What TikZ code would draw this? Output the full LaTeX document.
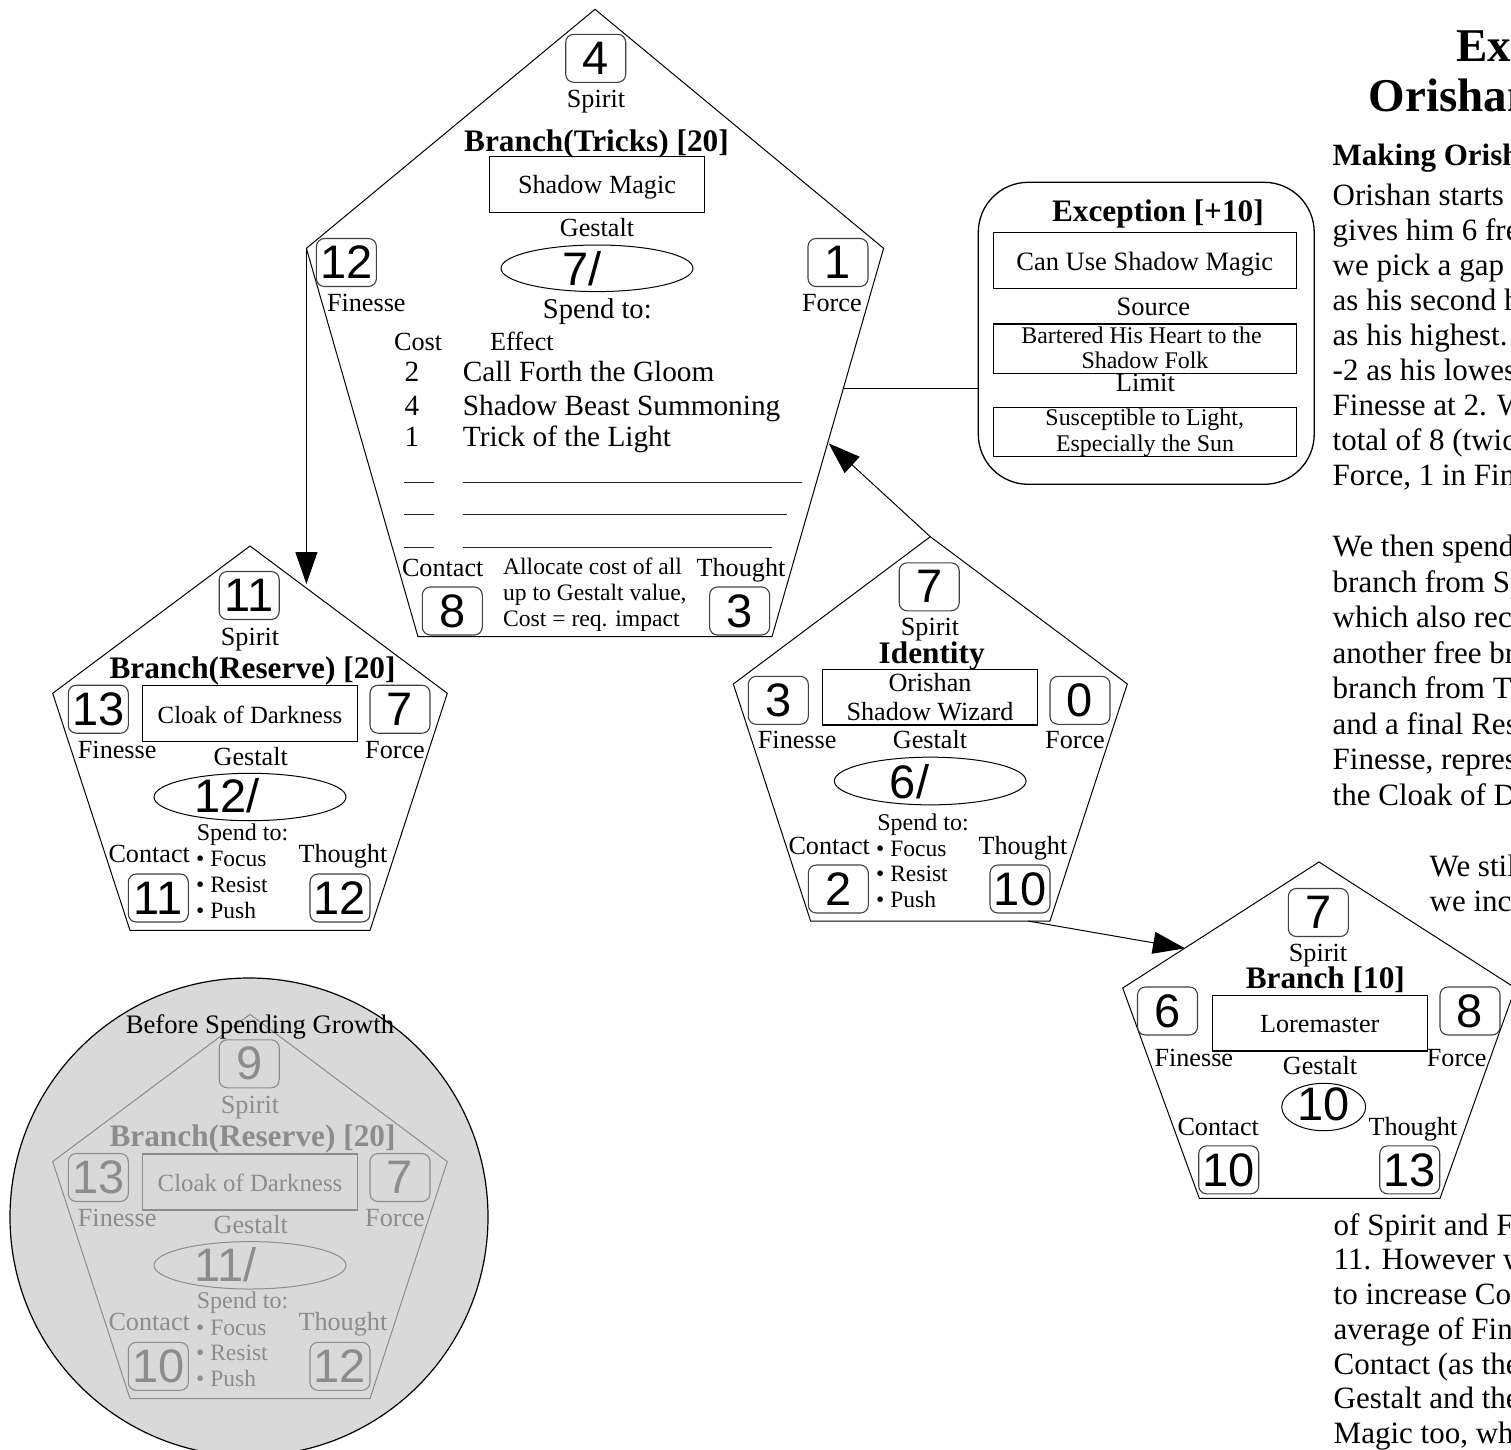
\documentclass[tikz,border=0pt]{standalone}
\usepackage{fontspec}
\setmainfont{Liberation Serif}
\newfontfamily\numfont{Liberation Sans}
\usetikzlibrary{shapes.geometric,arrows.meta}
\newcommand\fs[1]{\fontsize{#1}{#1}\selectfont}
\colorlet{ink}{black}
\colorlet{boxink}{black!75}
\tikzset{
  pent/.style={draw=ink, line width=1pt, line join=miter},
  numbox/.style={draw=boxink, line width=1.1pt, rounded corners=8pt, minimum width=60pt,
    minimum height=48pt, inner sep=0pt, text=ink, font=\numfont\fs{47}},
  lbl/.style={inner sep=0pt, anchor=base, text=ink, font=\fs{26.2}},
  lblw/.style={lbl, anchor=base west},
  ttl/.style={inner sep=0pt, anchor=base, text=ink, font=\bfseries\fs{31.3}},
  namebox/.style={draw=ink, line width=1.2pt, inner sep=0pt},
  gestalt/.style={draw=ink, ellipse, line width=1pt, inner sep=0pt},
  gnum/.style={inner sep=0pt, anchor=base west, text=ink, font=\numfont\fs{47}},
  spenditem/.style={inner sep=0pt, anchor=base west, text=ink, font=\fs{23.5}},
  prose/.style={inner sep=0pt, anchor=base west, font=\fs{31}},
  fillline/.style={draw=black!85, line width=1.5pt},
  joiner/.style={draw, line width=1pt},
  pointer/.style={joiner, -{Triangle[length=32pt,width=22pt]}},
}

% A "Branch(Reserve)" sheet: #1 name prefix, #2 vertical offset,
% #3 Spirit, #4 Gestalt, #5 Contact, #6 text/line colour, #7 box colour
\newcommand\reservesheet[7]{%
  \begin{scope}[shift={(0,#2)}]
    \colorlet{ink}{#6}\colorlet{boxink}{#7}%
    \coordinate (#1-top) at (250,546);
    \coordinate (#1-right) at (447.3,693.3);
    \coordinate (#1-br) at (370,930.3);
    \coordinate (#1-bl) at (130,930.3);
    \coordinate (#1-left) at (52.7,693.3);
    \draw[pent] (#1-top) -- (#1-right) -- (#1-br) -- (#1-bl) -- (#1-left) -- cycle;
    \node[numbox] (#1-spirit) at (249.2,595.5) {#3};
    \node[lbl] (#1-spiritlbl) at (250,645) {Spirit};
    \node[ttl] (#1-title) at (252.5,678.3) {Branch(Reserve) [20]};
    \node[numbox] (#1-finesse) at (98.3,709.2) {13};
    \node[numbox] (#1-force) at (400,709.2) {7};
    \node[namebox, minimum width=214.6pt, minimum height=56pt] (#1-name) at (250,713.7) {};
    \node[lbl, font=\fs{24.8}] (#1-nametext) at (250,723.3) {Cloak of Darkness};
    \node[lblw] (#1-finesselbl) at (77.7,758.3) {Finesse};
    \node[lblw] (#1-forcelbl) at (365,758.3) {Force};
    \node[lbl] (#1-gestaltlbl) at (250.7,765) {Gestalt};
    \node[gestalt, minimum width=192pt, minimum height=47.4pt] (#1-gestalt) at (250,797) {};
    \node[gnum] (#1-gestaltval) at (194.5,812.7) {#4};
    \node[lbl, font=\fs{24}] (#1-spend) at (242.5,840) {Spend to:};
    \node[lblw] (#1-contactlbl) at (108.3,862.5) {Contact};
    \node[lblw] (#1-thoughtlbl) at (298.3,862.5) {Thought};
    \node[spenditem] (#1-focus) at (196,866.7) {\textbullet\ Focus};
    \node[spenditem] (#1-resist) at (196,892.2) {\textbullet\ Resist};
    \node[spenditem] (#1-push) at (196,918) {\textbullet\ Push};
    \node[numbox] (#1-contact) at (158.3,898) {#5};
    \node[numbox] (#1-thought) at (340,898) {12};
  \end{scope}}

\begin{document}
\begin{tikzpicture}[x=1pt,y=-1pt]
\useasboundingbox (0,0) rectangle (1511,1449);
\clip (0,0) rectangle (1511,1449);

% ---------- Branch(Tricks) ----------
\coordinate (tr-top) at (595,9.3);
\coordinate (tr-right) at (883.6,248.3);
\coordinate (tr-br) at (772,636.7);
\coordinate (tr-bl) at (418,636.7);
\coordinate (tr-left) at (306.4,248.3);
\draw[pent] (tr-top) -- (tr-right) -- (tr-br) -- (tr-bl) -- (tr-left) -- cycle;
\node[numbox] (tr-spirit) at (595.7,58.3) {4};
\node[lbl] (tr-spiritlbl) at (596,107.3) {Spirit};
\node[ttl] (tr-title) at (596.5,151.7) {Branch(Tricks) [20]};
\node[namebox, minimum width=215.3pt, minimum height=55.6pt] (tr-name) at (597,184.5) {};
\node[lbl] (tr-nametext) at (597,193.3) {Shadow Magic};
\node[lbl] (tr-gestaltlbl) at (597,236) {Gestalt};
\node[gestalt, minimum width=192pt, minimum height=46.6pt] (tr-gestalt) at (597,268.3) {};
\node[gnum] (tr-gestaltval) at (562,285) {7/};
\node[numbox] (tr-finesse) at (346.4,262.5) {12};
\node[numbox] (tr-force) at (838,262.5) {1};
\node[lblw] (tr-finesselbl) at (326.8,311.7) {Finesse};
\node[lblw] (tr-forcelbl) at (801.8,311.7) {Force};
\node[lbl, font=\fs{28.6}] (tr-spend) at (597.3,318) {Spend to:};
\node[lblw] (tr-cost) at (393.9,350) {Cost};
\node[lblw] (tr-effect) at (490,350) {Effect};
\node[lblw, font=\fs{29.3}] (tr-c1) at (404.5,381.7) {2};
\node[lblw, font=\fs{29.3}] (tr-e1) at (462.7,381.7) {Call Forth the Gloom};
\node[lblw, font=\fs{29.3}] (tr-c2) at (404.5,415) {4};
\node[lblw, font=\fs{29.3}] (tr-e2) at (462.7,415) {Shadow Beast Summoning};
\node[lblw, font=\fs{29.3}] (tr-c3) at (404.5,446.7) {1};
\node[lblw, font=\fs{29.3}] (tr-e3) at (462.7,446.7) {Trick of the Light};
% blank rows to fill in
\draw[fillline] (403.6,482.3) -- (433.9,482.3);
\draw[fillline] (462.5,482.3) -- (801.8,482.3);
\draw[fillline] (403.6,514.3) -- (433.9,514.3);
\draw[fillline] (462.5,514.3) -- (786.8,514.3);
\draw[fillline] (403.6,547.7) -- (433.9,547.7);
\draw[fillline] (462.5,547.7) -- (772.1,547.7);
\node[lblw] (tr-contactlbl) at (401.8,576.7) {Contact};
\node[lblw] (tr-thoughtlbl) at (696.4,576.7) {Thought};
\node[lblw, font=\fs{23.6}] (tr-note1) at (502.9,574) {Allocate cost of all};
\node[lblw, font=\fs{23.6}] (tr-note2) at (502.9,600) {up to Gestalt value,};
\node[lblw, font=\fs{23.6}] (tr-note3) at (502.9,626) {Cost = req. impact};
\node[numbox] (tr-contact) at (452.3,611) {8};
\node[numbox] (tr-thought) at (739.6,611) {3};

% ---------- Exception ----------
\node[draw, line width=1.3pt, rounded corners=50pt, minimum width=335.9pt,
      minimum height=302pt, inner sep=0pt] (exc) at (1146.25,333.3) {};
\node[ttl] (exc-title) at (1157.9,221.7) {Exception [+10]};
\node[namebox, minimum width=303.2pt, minimum height=55.6pt] (exc-ability) at (1145,260.5) {};
\node[lbl, font=\fs{26.5}] (exc-abilitytext) at (1144.8,270) {Can Use Shadow Magic};
\node[lbl, font=\fs{26.5}] (exc-sourcelbl) at (1153.3,315) {Source};
\node[namebox, minimum width=303.2pt, minimum height=49.3pt] (exc-source) at (1145,348.7) {};
\node[lbl, font=\fs{23.9}] (exc-source1) at (1141.5,343.3) {Bartered His Heart to the};
\node[lbl, font=\fs{23.9}] (exc-source2) at (1145,368.8) {Shadow Folk};
\node[lbl, font=\fs{26.5}] (exc-limitlbl) at (1145.4,391) {Limit};
\node[namebox, minimum width=303.2pt, minimum height=49.4pt] (exc-limit) at (1145,432) {};
\node[lbl, font=\fs{23.9}] (exc-limit1) at (1144.7,425) {Susceptible to Light,};
\node[lbl, font=\fs{23.9}] (exc-limit2) at (1145,451.7) {Especially the Sun};

% ---------- Branch(Reserve), current ----------
\reservesheet{rs}{0}{11}{12/}{11}{black}{black!75}

% ---------- Identity ----------
\coordinate (id-top) at (930.3,536.7);
\coordinate (id-right) at (1127.3,684);
\coordinate (id-br) at (1050,921);
\coordinate (id-bl) at (810.6,921);
\coordinate (id-left) at (733.3,684);
\draw[pent] (id-top) -- (id-right) -- (id-br) -- (id-bl) -- (id-left) -- cycle;
\node[numbox] (id-spirit) at (929.2,586.8) {7};
\node[lbl] (id-spiritlbl) at (930,635) {Spirit};
\node[ttl] (id-title) at (931.7,663.3) {Identity};
\node[namebox, minimum width=214.6pt, minimum height=55.7pt] (id-name) at (930,697.2) {};
\node[lbl] (id-name1) at (930,691.7) {Orishan};
\node[lbl] (id-name2) at (930,720) {Shadow Wizard};
\node[numbox] (id-finesse) at (778.3,700.3) {3};
\node[numbox] (id-force) at (1080,700.3) {0};
\node[lblw] (id-finesselbl) at (757.7,748.3) {Finesse};
\node[lbl] (id-gestaltlbl) at (930,748.3) {Gestalt};
\node[lblw] (id-forcelbl) at (1045,748.3) {Force};
\node[gestalt, minimum width=191.7pt, minimum height=47.7pt] (id-gestalt) at (930.2,781) {};
\node[gnum] (id-gestaltval) at (889.7,798.3) {6/};
\node[lbl, font=\fs{24}] (id-spend) at (923,830) {Spend to:};
\node[lblw] (id-contactlbl) at (788.3,854) {Contact};
\node[lblw] (id-thoughtlbl) at (978.3,854) {Thought};
\node[spenditem] (id-focus) at (876,856.7) {\textbullet\ Focus};
\node[spenditem] (id-resist) at (876,881.7) {\textbullet\ Resist};
\node[spenditem] (id-push) at (876,907) {\textbullet\ Push};
\node[numbox] (id-contact) at (838.3,889) {2};
\node[numbox] (id-thought) at (1020,889) {10};

% ---------- Branch [10] : Loremaster ----------
\coordinate (lm-top) at (1319,862);
\coordinate (lm-right) at (1515.3,988);
\coordinate (lm-br) at (1440,1198.3);
\coordinate (lm-bl) at (1199.3,1198.3);
\coordinate (lm-left) at (1122.7,988);
\draw[pent] (lm-top) -- (lm-right) -- (lm-br) -- (lm-bl) -- (lm-left) -- cycle;
\node[numbox] (lm-spirit) at (1318.3,912.5) {7};
\node[lbl] (lm-spiritlbl) at (1318,961.7) {Spirit};
\node[ttl] (lm-title) at (1325.3,988.3) {Branch [10]};
\node[numbox] (lm-finesse) at (1167.5,1011) {6};
\node[numbox] (lm-force) at (1470,1011) {8};
\node[namebox, minimum width=215pt, minimum height=55.3pt] (lm-name) at (1319.8,1023.3) {};
\node[lbl] (lm-nametext) at (1319.7,1032.7) {Loremaster};
\node[lblw] (lm-finesselbl) at (1154.3,1066.7) {Finesse};
\node[lblw] (lm-forcelbl) at (1426.7,1066.7) {Force};
\node[lbl] (lm-gestaltlbl) at (1320,1074.3) {Gestalt};
\node[gestalt, minimum width=84pt, minimum height=47.4pt] (lm-gestalt) at (1323.7,1107) {};
\node[lbl, font=\numfont\fs{47}] (lm-gestaltval) at (1323.7,1120) {10};
\node[lblw] (lm-contactlbl) at (1177.3,1135) {Contact};
\node[lblw] (lm-thoughtlbl) at (1368.3,1135) {Thought};
\node[numbox] (lm-contact) at (1228.7,1169.8) {10};
\node[numbox] (lm-thought) at (1409.7,1169.8) {13};

% ---------- connectors ----------
\coordinate (rs-in) at (306.4,584);
\coordinate (tr-in) at (828.6,443.3);
\coordinate (tr-out) at (842.9,388.3);
\coordinate (id-out) at (1028,921);
\coordinate (lm-in) at (1185,948.3);
\draw[pointer] (tr-left) -- (rs-in);
\draw[pointer] (id-top) -- (tr-in);
\draw[pointer] (id-out) -- (lm-in);
\draw[joiner] (tr-out) -- (tr-out -| exc.west);

% ---------- the Reserve sheet before growth ----------
\node[circle, draw, line width=1.2pt, fill=black!15, minimum size=478pt, inner sep=0pt]
  (growth) at (249,1217) {};
\reservesheet{gh}{468.3}{9}{11/}{10}{black!45}{black!45}
\node[lbl, font=\fs{26.7}] (growth-title) at (260,1033.3) {Before Spending Growth};

% ---------- worked example text ----------
\node[prose, font=\bfseries\fs{47}] (head1) at (1456,61.7) {Example:};
\node[prose, font=\bfseries\fs{47}] (head2) at (1368.5,111.7) {Orishan};
\node[prose, font=\bfseries\fs{31}] (head3) at (1332.5,165) {Making Orishan};
\foreach \t [count=\i from 0] in {Orishan starts, gives him 6 free, we pick a gap,
    as his second highest, as his highest., -2 as his lowest, Finesse at 2. We,
    total of 8 (twice, {Force, 1 in Finesse}}
  \node[prose] (para1-\i) at (1332.5,{205+35*\i}) {\t};
\foreach \t [count=\i from 0] in {We then spend, branch from Spirit, which also receives,
    another free branch, branch from Thought, and a final Reserve,
    {Finesse, representing}, the Cloak of Darkness}
  \node[prose] (para2-\i) at (1332.5,{556.7+35.5*\i}) {\t};
\node[prose] (para3-0) at (1429.5,876.5) {We still};
\node[prose] (para3-1) at (1429.5,911) {we increase};
\foreach \t [count=\i from 0] in {of Spirit and Force, 11. However we, to increase Contact,
    average of Finesse, Contact (as the, Gestalt and the, {Magic too, which}}
  \node[prose] (para4-\i) at (1333.5,{1235+34.75*\i}) {\t};
\end{tikzpicture}
\end{document}
